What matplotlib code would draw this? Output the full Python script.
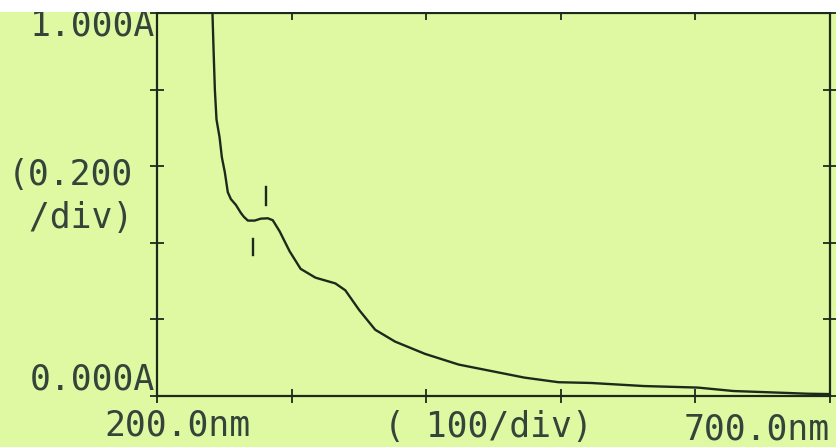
import numpy as np
import matplotlib.pyplot as plt
from matplotlib.patches import Rectangle

# Spectrum (wavelength in nm, absorbance in A)
wavelength = [240.5, 241.2, 242.1, 243.0, 244.2, 246.5, 248.2, 250.4, 252.6, 254.9,
              258.6, 262.3, 264.5, 267.5, 272.6, 277.1, 282.3, 286.0, 291.1, 298.5,
              306.7, 317.7, 332.5, 339.9, 350.3, 362.1, 376.9, 399.1, 424.2, 448.6,
              473.0, 498.2, 522.5, 561.7, 601.7, 628.3, 660.0, 683.0, 700.0]
absorbance = [1.05, 1.000, 0.895, 0.799, 0.722, 0.675, 0.623, 0.584, 0.532, 0.514,
              0.499, 0.478, 0.468, 0.458, 0.458, 0.463, 0.464, 0.459, 0.430, 0.378,
              0.332, 0.309, 0.294, 0.276, 0.224, 0.173, 0.142, 0.110, 0.082, 0.065,
              0.048, 0.036, 0.034, 0.026, 0.022, 0.013, 0.009, 0.006, 0.005]

# peak / valley marks drawn by the instrument
peak_nm = [281.0]
peak_mark = [(0.500, 0.545)]
valley_nm = [271.0]
valley_mark = [(0.369, 0.411)]

x_ticks = [200, 300, 400, 500, 600, 700]
y_ticks = [0.0, 0.2, 0.4, 0.6, 0.8, 1.0]

bg = '#def9a2'
ink = '#1c2a1c'
txt = '#34443a'

W, H = 836, 447
fig = plt.figure(figsize=(W / 100, H / 100), dpi=100, facecolor=bg)
ax = fig.add_axes([157 / W, 1 - 396 / H, (830 - 157) / W, (396 - 13) / H])
ax.set_facecolor(bg)

ax.plot(wavelength, absorbance, color=ink, lw=1.7, clip_on=True)
for nm, (a0, a1) in zip(peak_nm, peak_mark):
    ax.plot([nm, nm], [a0, a1], color=ink, lw=1.7)
for nm, (a0, a1) in zip(valley_nm, valley_mark):
    ax.plot([nm, nm], [a0, a1], color=ink, lw=1.7)

ax.set_xlim(200, 700)
ax.set_ylim(0, 1.0)
ax.set_xticks(x_ticks)
ax.set_yticks(y_ticks)
ax.set_xticklabels([])
ax.set_yticklabels([])
ax.tick_params(direction='inout', length=10, width=1.3, color=ink, right=True)
ax.tick_params(axis='x', which='both', top=True)
for s in ax.spines.values():
    s.set_color(ink)
    s.set_linewidth(1.6)

font = dict(family='DejaVu Sans Mono', fontsize=25, color=txt)

def put(x, y, s, ha='left'):
    fig.text(x / W, 1 - y / H, s, ha=ha, va='baseline', **font)

put(155, 36, '1.000A', ha='right')
put(8, 185, '(0.200')
put(8, 228, ' /div)')
put(155, 390, '0.000A', ha='right')
put(104, 435, '200.0nm')
put(384, 437, '( 100/div)')
put(684, 440, '700.0nm')

# white strip at the top of the scan
fig.add_artist(Rectangle((0, 1 - 12 / H), 1, 12 / H, transform=fig.transFigure,
                         facecolor='white', edgecolor='none', zorder=10))

fig.savefig('out.png', dpi=100, facecolor=bg)
